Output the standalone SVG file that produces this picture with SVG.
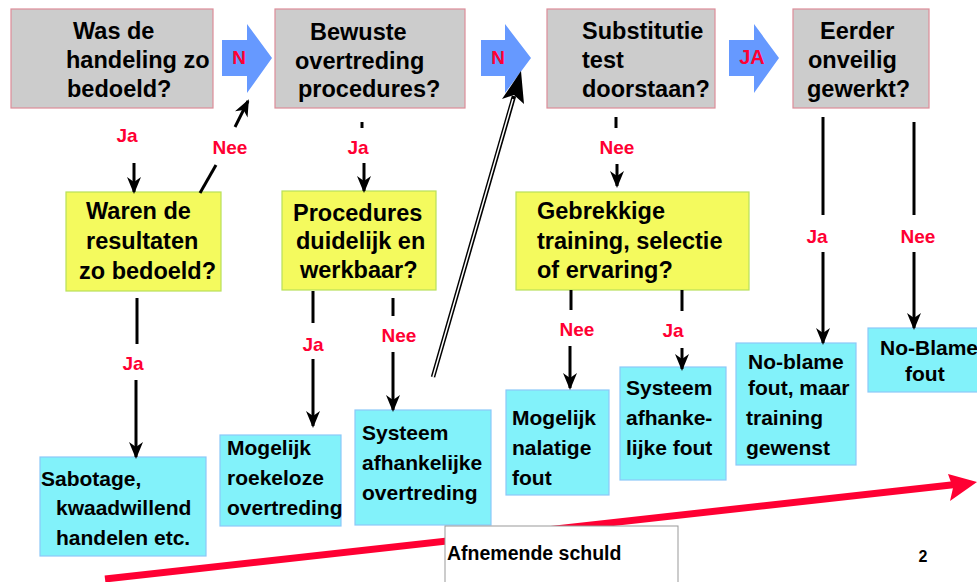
<svg xmlns="http://www.w3.org/2000/svg" width="977" height="582" viewBox="0 0 977 582">
<defs>
<style>
text{font-family:"Liberation Sans",Arial,sans-serif;font-weight:bold;}
.q{fill:#cccccc;stroke:#dd8c98;stroke-width:1.2;}
.y{fill:#f4fa5e;stroke:#b8e05a;stroke-width:1.2;}
.c{fill:#82f2fa;stroke:#8cc8f8;stroke-width:1.2;}
.bt{font-size:23.5px;fill:#000;}
.ct{font-size:21px;fill:#000;}
.lb{font-size:19px;fill:#ff0033;text-anchor:middle;}
.ba{fill:#6699ff;}
.ln{stroke:#000;stroke-width:3;fill:none;}
.ar{stroke:#000;stroke-width:3;fill:none;marker-end:url(#ah);}
</style>
<marker id="ah" markerUnits="userSpaceOnUse" markerWidth="17" markerHeight="14" refX="15" refY="7" orient="auto" viewBox="0 0 17 14">
<path d="M0,0 L17,7 L0,14 L5,7 Z" fill="#000"/>
</marker>
</defs>
<rect width="977" height="582" fill="#fff"/>

<g id="decline">
<line x1="105" y1="579" x2="960" y2="484" stroke="#ff0033" stroke-width="7"/>
<path d="M977,482 L948,474 L953,488 L950,501 Z" fill="#ff0033"/>
</g>

<g id="q1"><rect class="q" x="11" y="9" width="202" height="99"/>
<text class="bt"><tspan x="73" y="39">Was de</tspan><tspan x="66" y="68">handeling zo</tspan><tspan x="67" y="97">bedoeld?</tspan></text></g>
<g id="q2"><rect class="q" x="275" y="9" width="190" height="99"/>
<text class="bt"><tspan x="310" y="40">Bewuste</tspan><tspan x="295" y="69">overtreding</tspan><tspan x="298" y="97">procedures?</tspan></text></g>
<g id="q3"><rect class="q" x="547" y="9" width="168" height="99"/>
<text class="bt"><tspan x="582" y="39">Substitutie</tspan><tspan x="582" y="68">test</tspan><tspan x="582" y="97">doorstaan?</tspan></text></g>
<g id="q4"><rect class="q" x="793" y="9" width="136" height="99"/>
<text class="bt"><tspan x="820" y="39">Eerder</tspan><tspan x="808" y="68">onveilig</tspan><tspan x="807" y="97">gewerkt?</tspan></text></g>

<g id="arrowN1"><path class="ba" d="M222,40 L247,40 L247,24 L272,58 L247,93 L247,76 L222,76 Z"/><text class="lb" x="239" y="64">N</text></g>
<g id="arrowN2"><path class="ba" d="M481,40 L505,40 L505,24 L531,58 L505,93 L505,76 L481,76 Z"/><text class="lb" x="498" y="64">N</text></g>
<g id="arrowJA"><path class="ba" d="M729,40 L754,40 L754,24 L779,58 L754,93 L754,76 L729,76 Z"/><text class="lb" x="752" y="64" style="font-size:20px">JA</text></g>

<g id="y1"><rect class="y" x="66" y="192" width="155" height="99"/>
<text class="bt"><tspan x="86" y="219">Waren de</tspan><tspan x="86" y="249">resultaten</tspan><tspan x="79" y="279">zo bedoeld?</tspan></text></g>
<g id="y2"><rect class="y" x="282" y="191" width="154" height="99"/>
<text class="bt"><tspan x="293" y="221">Procedures</tspan><tspan x="296" y="249">duidelijk en</tspan><tspan x="300" y="278">werkbaar?</tspan></text></g>
<g id="y3"><rect class="y" x="516" y="192" width="233" height="98"/>
<text class="bt"><tspan x="537" y="219">Gebrekkige</tspan><tspan x="537" y="249">training, selectie</tspan><tspan x="537" y="278">of ervaring?</tspan></text></g>

<g id="c1"><rect class="c" x="40" y="457" width="166" height="99"/>
<text class="ct"><tspan x="41" y="486">Sabotage,</tspan><tspan x="56" y="515">kwaadwillend</tspan><tspan x="56" y="545">handelen etc.</tspan></text></g>
<g id="c2"><rect class="c" x="220" y="435" width="121" height="91"/>
<text class="ct"><tspan x="227" y="455">Mogelijk</tspan><tspan x="227" y="485">roekeloze</tspan><tspan x="227" y="515">overtreding</tspan></text></g>
<g id="c3"><rect class="c" x="355" y="410" width="136" height="115"/>
<text class="ct"><tspan x="362" y="440">Systeem</tspan><tspan x="362" y="470">afhankelijke</tspan><tspan x="362" y="500">overtreding</tspan></text></g>
<g id="c4"><rect class="c" x="506" y="390" width="103" height="105"/>
<text class="ct"><tspan x="512" y="425">Mogelijk</tspan><tspan x="512" y="455">nalatige</tspan><tspan x="512" y="485">fout</tspan></text></g>
<g id="c5"><rect class="c" x="620" y="367" width="106" height="113"/>
<text class="ct"><tspan x="626" y="395">Systeem</tspan><tspan x="626" y="425">afhanke-</tspan><tspan x="626" y="455">lijke fout</tspan></text></g>
<g id="c6"><rect class="c" x="736" y="343" width="120" height="122"/>
<text class="ct"><tspan x="748" y="369">No-blame</tspan><tspan x="748" y="395">fout, maar</tspan><tspan x="746" y="425">training</tspan><tspan x="746" y="455">gewenst</tspan></text></g>
<g id="c7"><rect class="c" x="868" y="328" width="120" height="64"/>
<text class="ct"><tspan x="880" y="355">No-Blame</tspan><tspan x="905" y="381">fout</tspan></text></g>

<g id="scale"><rect x="445" y="526" width="233" height="70" fill="#fff" stroke="#999" stroke-width="1"/>
<text x="447" y="560" style="font-size:19.5px">Afnemende schuld</text></g>
<text x="923" y="562" style="font-size:16px;text-anchor:middle">2</text>

<g id="connectors">
<line class="ar" x1="134" y1="163" x2="134" y2="192"/>
<line class="ln" x1="200" y1="193" x2="216" y2="165"/>
<line class="ar" x1="235" y1="127" x2="248" y2="101"/>
<line class="ln" x1="362" y1="122" x2="362" y2="128"/>
<line class="ar" x1="364" y1="163" x2="364" y2="191"/>
<line class="ln" x1="616" y1="117" x2="616" y2="128"/>
<line class="ar" x1="617" y1="164" x2="617" y2="186"/>
<line class="ln" x1="137" y1="298" x2="137" y2="344"/>
<line class="ar" x1="136" y1="380" x2="136" y2="457"/>
<line class="ln" x1="313" y1="291" x2="313" y2="323"/>
<line class="ar" x1="313" y1="359" x2="313" y2="426"/>
<line class="ln" x1="393" y1="298" x2="393" y2="316"/>
<line class="ar" x1="393" y1="352" x2="393" y2="410"/>
<line class="ln" x1="571" y1="290" x2="571" y2="310"/>
<line class="ar" x1="570" y1="346" x2="570" y2="388"/>
<line class="ln" x1="682" y1="290" x2="682" y2="311"/>
<line class="ar" x1="682" y1="348" x2="682" y2="369"/>
<line class="ln" x1="823" y1="117" x2="823" y2="215"/>
<line class="ar" x1="823" y1="252" x2="823" y2="343"/>
<line class="ln" x1="914" y1="122" x2="914" y2="215"/>
<line class="ar" x1="914" y1="252" x2="914" y2="328"/>
<line x1="433" y1="377" x2="514" y2="96" stroke="#000" stroke-width="4.5"/>
<line x1="433" y1="377" x2="513" y2="99" stroke="#fff" stroke-width="1.5"/>
<path d="M521,71 L524,104 L514,95 L502,99 Z" fill="#000"/>
</g>

<g id="labels">
<text class="lb" x="127" y="142">Ja</text>
<text class="lb" x="230" y="154">Nee</text>
<text class="lb" x="358" y="154">Ja</text>
<text class="lb" x="617" y="154">Nee</text>
<text class="lb" x="133" y="370">Ja</text>
<text class="lb" x="313" y="351">Ja</text>
<text class="lb" x="399" y="342">Nee</text>
<text class="lb" x="577" y="336">Nee</text>
<text class="lb" x="673" y="337">Ja</text>
<text class="lb" x="817" y="243">Ja</text>
<text class="lb" x="918" y="243">Nee</text>
</g>
</svg>
